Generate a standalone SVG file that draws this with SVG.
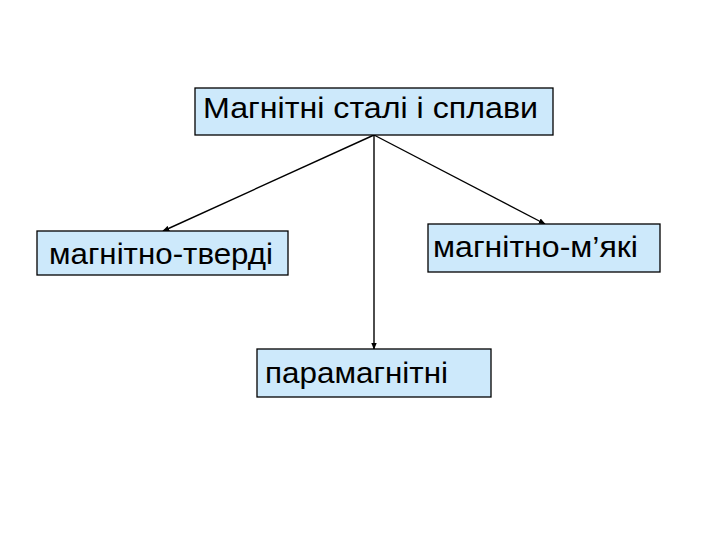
<svg xmlns="http://www.w3.org/2000/svg" width="720" height="540" viewBox="0 0 720 540">
<defs>
<style>
.box{fill:#cde9fb;stroke:#000;stroke-width:1.3}
.t{font-family:"Liberation Sans",Arial,sans-serif;font-size:29px;fill:#000}
.c{stroke:#000;stroke-width:1.4;fill:none;marker-end:url(#ah)}
</style>
<marker id="ah" viewBox="0 0 10 10" refX="9" refY="5" markerWidth="7" markerHeight="7" orient="auto" markerUnits="userSpaceOnUse">
<path d="M0,1 L10,5 L0,9 Z" fill="#000"/>
</marker>
</defs>
<rect width="720" height="540" fill="#fff"/>
<g id="connectors">
<line class="c" x1="374" y1="135" x2="163" y2="231"/>
<line class="c" x1="374" y1="135" x2="545" y2="224"/>
<line class="c" x1="374" y1="135" x2="374" y2="349"/>
</g>
<g id="n-top">
<rect class="box" x="195" y="88" width="358" height="47"/>
<text class="t" x="203" y="118" textLength="335" lengthAdjust="spacingAndGlyphs">Магнітні сталі і сплави</text>
</g>
<g id="n-hard">
<rect class="box" x="37" y="231" width="251" height="44"/>
<text class="t" x="49" y="264" textLength="224" lengthAdjust="spacingAndGlyphs">магнітно-тверді</text>
</g>
<g id="n-soft">
<rect class="box" x="428" y="224" width="232" height="48"/>
<text class="t" x="433" y="257" textLength="205" lengthAdjust="spacingAndGlyphs">магнітно-м’які</text>
</g>
<g id="n-para">
<rect class="box" x="257" y="349" width="234" height="48"/>
<text class="t" x="265" y="383" textLength="183" lengthAdjust="spacingAndGlyphs">парамагнітні</text>
</g>
</svg>
